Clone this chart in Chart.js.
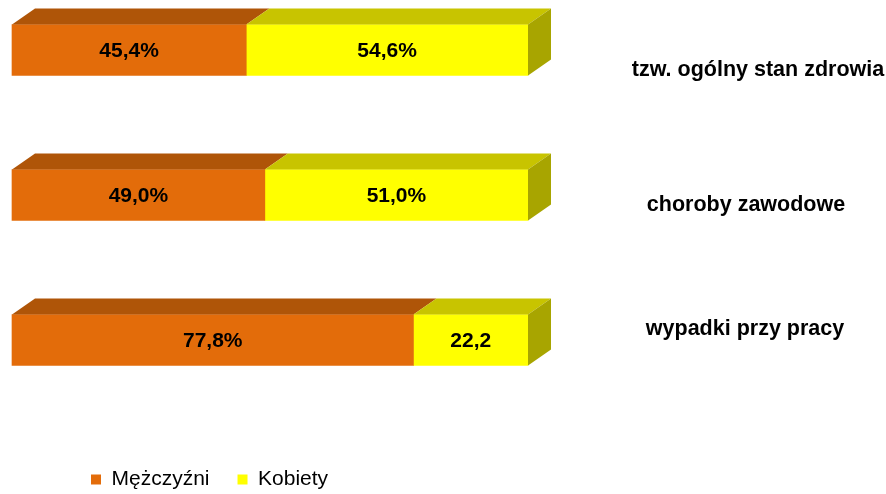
<!DOCTYPE html>
<html>
<head>
<meta charset="utf-8">
<script src="https://cdn.jsdelivr.net/npm/chart.js@4"></script>
<style>
  body { margin: 0; background: #fff; }
  #wrap { width: 886px; height: 494px; position: relative; }
</style>
</head>
<body>
<div id="wrap"><canvas id="chart"></canvas></div>
<script>
var categories = ['tzw. ogólny stan zdrowia', 'choroby zawodowe', 'wypadki przy pracy'];
var seriesNames = ['Mężczyźni', 'Kobiety'];
var mezczyzni = [45.4, 49.0, 77.8];
var kobiety = [54.6, 51.0, 22.2];
// the last women's value is printed without the % sign in the original
var bezProcentu = [[], [2]];

var FONT = "'Liberation Sans', Arial, sans-serif";
var DEPTH_X = 23, DEPTH_Y = 16;
var frontColors = ['#E36C0A', '#FFFF00'];
var topColors = ['#AF5508', '#C8C400'];
var sideColors = ['#8C4406', '#A8A500'];
// small nudges so the category captions sit where the original put them
var captionNudge = [[10, 20], [-2, 10], [-3, -11]];

function fmt(v, ds, i) {
    var s = v.toFixed(1).replace('.', ',');
    if (bezProcentu[ds].indexOf(i) < 0) s += '%';
    return s;
}

var bars3d = {
    id: 'bars3d',
    afterDatasetsDraw: function(chart) {
        var ctx = chart.ctx;
        var n = chart.data.datasets.length;
        ctx.save();
        for (var d = 0; d < n; d++) {
            var meta = chart.getDatasetMeta(d);
            meta.data.forEach(function(el) {
                var top = el.y - el.height / 2, bot = el.y + el.height / 2;
                ctx.fillStyle = topColors[d];
                ctx.beginPath();
                ctx.moveTo(el.base, top);
                ctx.lineTo(el.base + DEPTH_X, top - DEPTH_Y);
                ctx.lineTo(el.x + DEPTH_X, top - DEPTH_Y);
                ctx.lineTo(el.x, top);
                ctx.closePath();
                ctx.fill();
                if (d === n - 1) {
                    ctx.fillStyle = sideColors[d];
                    ctx.beginPath();
                    ctx.moveTo(el.x, top);
                    ctx.lineTo(el.x + DEPTH_X, top - DEPTH_Y);
                    ctx.lineTo(el.x + DEPTH_X, bot - DEPTH_Y);
                    ctx.lineTo(el.x, bot);
                    ctx.closePath();
                    ctx.fill();
                }
            });
        }
        // values inside the bars
        ctx.font = 'bold 21px ' + FONT;
        ctx.fillStyle = '#000';
        ctx.textAlign = 'center';
        ctx.textBaseline = 'middle';
        for (var d2 = 0; d2 < n; d2++) {
            var m = chart.getDatasetMeta(d2);
            m.data.forEach(function(el, i) {
                var v = chart.data.datasets[d2].data[i];
                ctx.fillText(fmt(v, d2, i), (el.x + el.base) / 2, el.y + 1);
            });
        }
        // category captions on the right
        ctx.font = 'bold 21.5px ' + FONT;
        var ys = chart.scales.y;
        var cx = (ys.left + ys.right) / 2 + 41;
        categories.forEach(function(c, i) {
            ctx.fillText(c, cx + captionNudge[i][0], ys.getPixelForValue(i) + captionNudge[i][1]);
        });
        ctx.restore();
    },
    afterLayout: function(chart) {
        // legend sits low and to the left in the original
        chart.legend.left = 63;
        chart.legend.top = 441;
    }
};

new Chart(document.getElementById('chart'), {
    type: 'bar',
    data: {
        labels: categories,
        datasets: [
            { label: seriesNames[0], data: mezczyzni, backgroundColor: frontColors[0], barThickness: 51, clip: false },
            { label: seriesNames[1], data: kobiety, backgroundColor: frontColors[1], barThickness: 51, clip: false }
        ]
    },
    options: {
        indexAxis: 'y',
        responsive: true,
        maintainAspectRatio: false,
        animation: false,
        layout: { padding: { left: 12, top: 50, right: 0, bottom: 0 } },
        scales: {
            x: {
                stacked: true,
                min: 0,
                max: 100,
                grid: { display: false },
                border: { display: false },
                ticks: { display: false },
                afterFit: function(axis) { axis.height = 95; }
            },
            y: {
                stacked: true,
                position: 'right',
                offset: false,
                grid: { display: false },
                border: { display: false },
                ticks: { display: false },
                afterFit: function(axis) { axis.width = 358; }
            }
        },
        plugins: {
            legend: {
                position: 'bottom',
                align: 'start',
                labels: {
                    boxWidth: 10,
                    boxHeight: 10,
                    padding: 28,
                    color: '#000',
                    font: { family: FONT, size: 21 }
                }
            },
            tooltip: { enabled: false }
        }
    },
    plugins: [bars3d]
});
</script>
</body>
</html>
